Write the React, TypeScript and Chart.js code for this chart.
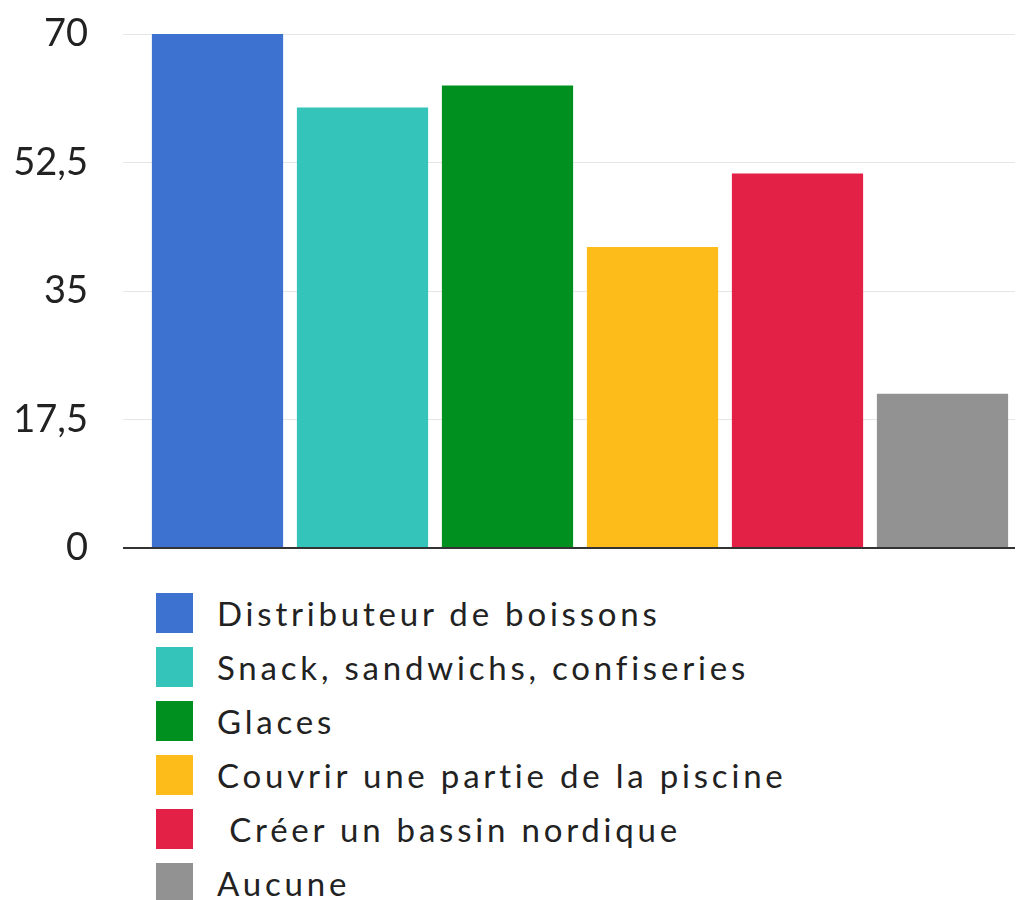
import React, { useEffect, useRef } from "react";
import { Chart, registerables } from "chart.js";

Chart.register(...registerables);

const categories = [
  "Distributeur de boissons",
  "Snack, sandwichs, confiseries",
  "Glaces",
  "Couvrir une partie de la piscine",
  " Créer un bassin nordique",
  "Aucune",
];
const values = [70, 60, 63, 41, 51, 21];
const colors = ["#3d72d0", "#34c4b9", "#00901f", "#fdbc1a", "#e32146", "#929292"];
const yTicks = [0, 17.5, 35, 52.5, 70];

const FONT = "Lato, 'Noto Sans', sans-serif";

export default function App() {
  const ref = useRef<HTMLCanvasElement | null>(null);

  useEffect(() => {
    if (!ref.current) return;
    const chart = new Chart(ref.current, {
      type: "bar",
      data: {
        labels: categories,
        datasets: [
          {
            data: values,
            backgroundColor: colors,
            borderWidth: 0,
            barPercentage: 0.905,
            categoryPercentage: 1,
          },
        ],
      },
      options: {
        responsive: false,
        animation: false,
        layout: { padding: { left: 0, right: 8, top: 34, bottom: 23 } },
        plugins: { legend: { display: false }, tooltip: { enabled: false } },
        scales: {
          x: {
            display: false,
          },
          y: {
            min: 0,
            max: 70,
            afterBuildTicks: (s: any) => {
              s.ticks = yTicks.map((v) => ({ value: v }));
            },
            afterFit: (s: any) => {
              s.width = 145;
              s.paddingTop = 0;
              s.paddingBottom = 0;
            },
            ticks: {
              padding: 35,
              color: "#222",
              font: { family: FONT, size: 38 },
              callback: (v: any) => String(v).replace(".", ","),
            },
            grid: {
              tickLength: 22,
              color: (c: any) => (c.tick && c.tick.value === 0 ? "#333" : "#e6e6e6"),
              lineWidth: (c: any) => (c.tick && c.tick.value === 0 ? 2 : 1),
            },
            border: { display: false },
          },
        },
      },
    });
    return () => chart.destroy();
  }, []);

  return (
    <div
      style={{
        position: "fixed",
        left: 0,
        top: 0,
        width: 1023,
        height: 900,
        background: "#fff",
        overflow: "hidden",
        fontFamily: FONT,
      }}
    >
      <canvas ref={ref} width={1023} height={571} style={{ display: "block" }} />
      <div style={{ position: "absolute", left: 156, top: 593 }}>
        {categories.map((c, i) => (
          <div
            key={i}
            style={{ display: "flex", alignItems: "center", height: 40, marginBottom: 14 }}
          >
            <div style={{ width: 37, height: 40, background: colors[i], marginRight: 24 }} />
            <span
              style={{
                fontSize: 33,
                color: "#222",
                whiteSpace: "pre",
                lineHeight: "40px",
                letterSpacing: 3.8,
              }}
            >
              {c}
            </span>
          </div>
        ))}
      </div>
    </div>
  );
}
